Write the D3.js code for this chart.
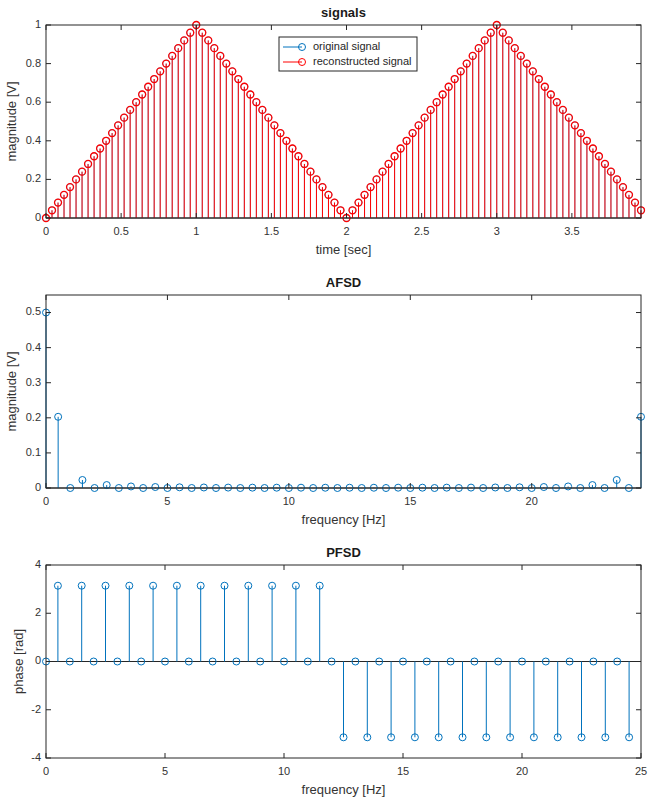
<!DOCTYPE html>
<html>
<head>
<meta charset="utf-8">
<script src="https://cdn.jsdelivr.net/npm/d3@7"></script>
<style>
  body { margin: 0; background: #fff; }
  svg { font-family: "Liberation Sans", Arial, sans-serif; }
  .tick-label { font-size: 11px; fill: #333; }
  .legend-label { font-size: 11px; fill: #262626; }
  .axis-label { font-size: 13px; fill: #333; }
  .title { font-size: 13px; font-weight: bold; fill: #1a1a1a; }
</style>
</head>
<body>
<svg id="chart"></svg>
<script>
const width = 649;
const height = 801;

// signals: time axis (sec) and sample values
const timeSec = [
  0, 0.04, 0.08, 0.12, 0.16, 0.2, 0.24, 0.28, 0.32, 0.36,
  0.4, 0.44, 0.48, 0.52, 0.56, 0.6, 0.64, 0.68, 0.72, 0.76,
  0.8, 0.84, 0.88, 0.92, 0.96, 1, 1.04, 1.08, 1.12, 1.16,
  1.2, 1.24, 1.28, 1.32, 1.36, 1.4, 1.44, 1.48, 1.52, 1.56,
  1.6, 1.64, 1.68, 1.72, 1.76, 1.8, 1.84, 1.88, 1.92, 1.96,
  2, 2.04, 2.08, 2.12, 2.16, 2.2, 2.24, 2.28, 2.32, 2.36,
  2.4, 2.44, 2.48, 2.52, 2.56, 2.6, 2.64, 2.68, 2.72, 2.76,
  2.8, 2.84, 2.88, 2.92, 2.96, 3, 3.04, 3.08, 3.12, 3.16,
  3.2, 3.24, 3.28, 3.32, 3.36, 3.4, 3.44, 3.48, 3.52, 3.56,
  3.6, 3.64, 3.68, 3.72, 3.76, 3.8, 3.84, 3.88, 3.92, 3.96
];
const originalSignal = [
  0, 0.04, 0.08, 0.12, 0.16, 0.2, 0.24, 0.28, 0.32, 0.36,
  0.4, 0.44, 0.48, 0.52, 0.56, 0.6, 0.64, 0.68, 0.72, 0.76,
  0.8, 0.84, 0.88, 0.92, 0.96, 1, 0.96, 0.92, 0.88, 0.84,
  0.8, 0.76, 0.72, 0.68, 0.64, 0.6, 0.56, 0.52, 0.48, 0.44,
  0.4, 0.36, 0.32, 0.28, 0.24, 0.2, 0.16, 0.12, 0.08, 0.04,
  0, 0.04, 0.08, 0.12, 0.16, 0.2, 0.24, 0.28, 0.32, 0.36,
  0.4, 0.44, 0.48, 0.52, 0.56, 0.6, 0.64, 0.68, 0.72, 0.76,
  0.8, 0.84, 0.88, 0.92, 0.96, 1, 0.96, 0.92, 0.88, 0.84,
  0.8, 0.76, 0.72, 0.68, 0.64, 0.6, 0.56, 0.52, 0.48, 0.44,
  0.4, 0.36, 0.32, 0.28, 0.24, 0.2, 0.16, 0.12, 0.08, 0.04
];
// the reconstruction lands on the same values
const reconstructedSignal = originalSignal.slice();

// spectrum: frequency bins (Hz), magnitude [V], phase [rad]
const freqHz = [
  0, 0.5, 1, 1.5, 2, 2.5, 3, 3.5, 4, 4.5,
  5, 5.5, 6, 6.5, 7, 7.5, 8, 8.5, 9, 9.5,
  10, 10.5, 11, 11.5, 12, 12.5, 13, 13.5, 14, 14.5,
  15, 15.5, 16, 16.5, 17, 17.5, 18, 18.5, 19, 19.5,
  20, 20.5, 21, 21.5, 22, 22.5, 23, 23.5, 24, 24.5
];
const magnitude = [
  0.5, 0.2029, 0, 0.0228, 0, 0.0084, 0, 0.0044, 0, 0.0028,
  0, 0.002, 0, 0.0015, 0, 0.0012, 0, 0.001, 0, 0.0009,
  0, 0.0009, 0, 0.0008, 0, 0.0008, 0, 0.0008, 0, 0.0009,
  0, 0.0009, 0, 0.001, 0, 0.0012, 0, 0.0015, 0, 0.002,
  0, 0.0028, 0, 0.0044, 0, 0.0084, 0, 0.0228, 0, 0.2029
];
const phase = [
  0, 3.1416, 0, 3.1416, 0, 3.1416, 0, 3.1416, 0, 3.1416,
  0, 3.1416, 0, 3.1416, 0, 3.1416, 0, 3.1416, 0, 3.1416,
  0, 3.1416, 0, 3.1416, 0, -3.1416, 0, -3.1416, 0, -3.1416,
  0, -3.1416, 0, -3.1416, 0, -3.1416, 0, -3.1416, 0, -3.1416,
  0, -3.1416, 0, -3.1416, 0, -3.1416, 0, -3.1416, 0, -3.1416
];

const timeTicks = [0, 0.5, 1, 1.5, 2, 2.5, 3, 3.5];
const signalTicks = [0, 0.2, 0.4, 0.6, 0.8, 1];
const afsdFreqTicks = [0, 5, 10, 15, 20];
const afsdTicks = [0, 0.1, 0.2, 0.3, 0.4, 0.5];
const pfsdFreqTicks = [0, 5, 10, 15, 20, 25];
const pfsdTicks = [-4, -2, 0, 2, 4];

const blue = "#0072BD";
const red = "#FF0000";
const axisColor = "#262626";
const left = 46, right = 641;
const tickLen = 5;
const markerR = 3.5;

const svg = d3.select("#chart")
    .attr("width", width)
    .attr("height", height);

function drawPanel(p) {
    const x = d3.scaleLinear().domain(p.xDomain).range([left, right]);
    const y = d3.scaleLinear().domain(p.yDomain).range([p.bottom, p.top]);
    const g = svg.append("g");

    // stem baseline at zero
    g.append("line")
        .attr("x1", left).attr("x2", right)
        .attr("y1", y(0)).attr("y2", y(0))
        .attr("stroke", axisColor).attr("stroke-width", 1);

    p.series.forEach(s => {
        const pts = s.x.map((v, i) => ({ x: v, y: s.y[i] }));
        g.selectAll(null).data(pts).enter().append("line")
            .attr("x1", d => x(d.x)).attr("x2", d => x(d.x))
            .attr("y1", y(0)).attr("y2", d => y(d.y))
            .attr("stroke", s.color).attr("stroke-width", s.stemWidth || 1);
        g.selectAll(null).data(pts).enter().append("circle")
            .attr("cx", d => x(d.x)).attr("cy", d => y(d.y))
            .attr("r", markerR)
            .attr("fill", "none")
            .attr("stroke", s.color).attr("stroke-width", s.markerWidth || 1);
    });

    // box
    g.append("rect")
        .attr("x", left).attr("y", p.top)
        .attr("width", right - left).attr("height", p.bottom - p.top)
        .attr("fill", "none").attr("stroke", axisColor).attr("stroke-width", 1);

    // inward ticks, bottom/top and left/right
    p.xTicks.forEach(t => {
        [[p.bottom, -tickLen], [p.top, tickLen]].forEach(([yy, d]) => {
            g.append("line")
                .attr("x1", x(t)).attr("x2", x(t))
                .attr("y1", yy).attr("y2", yy + d)
                .attr("stroke", axisColor);
        });
        g.append("text").attr("class", "tick-label")
            .attr("x", x(t)).attr("y", p.bottom + 14)
            .attr("text-anchor", "middle").attr("dominant-baseline", "middle")
            .text(t);
    });
    p.yTicks.forEach(t => {
        [[left, tickLen], [right, -tickLen]].forEach(([xx, d]) => {
            g.append("line")
                .attr("x1", xx).attr("x2", xx + d)
                .attr("y1", y(t)).attr("y2", y(t))
                .attr("stroke", axisColor);
        });
        g.append("text").attr("class", "tick-label")
            .attr("x", left - 5).attr("y", y(t))
            .attr("text-anchor", "end").attr("dominant-baseline", "middle")
            .text(t);
    });

    g.append("text").attr("class", "title")
        .attr("x", (left + right) / 2).attr("y", p.top - 11)
        .attr("text-anchor", "middle").attr("dominant-baseline", "middle")
        .text(p.title);
    g.append("text").attr("class", "axis-label")
        .attr("x", (left + right) / 2).attr("y", p.bottom + 33)
        .attr("text-anchor", "middle").attr("dominant-baseline", "middle")
        .text(p.xLabel);
    g.append("text").attr("class", "axis-label")
        .attr("transform", `translate(${p.yLabelX},${(p.top + p.bottom) / 2}) rotate(-90)`)
        .attr("text-anchor", "middle").attr("dominant-baseline", "middle")
        .text(p.yLabel);
}

drawPanel({
    top: 25, bottom: 218,
    xDomain: [0, 3.96], yDomain: [0, 1],
    xTicks: timeTicks, yTicks: signalTicks,
    title: "signals", xLabel: "time [sec]", yLabel: "magnitude [V]", yLabelX: 12.5,
    series: [
        { x: timeSec, y: originalSignal, color: blue, stemWidth: 0.6, markerWidth: 0.6 },
        { x: timeSec, y: reconstructedSignal, color: red, stemWidth: 1, markerWidth: 1.3 }
    ]
});

drawPanel({
    top: 295, bottom: 488,
    xDomain: [0, 24.5], yDomain: [0, 0.55],
    xTicks: afsdFreqTicks, yTicks: afsdTicks,
    title: "AFSD", xLabel: "frequency [Hz]", yLabel: "magnitude [V]", yLabelX: 12.5,
    series: [{ x: freqHz, y: magnitude, color: blue }]
});

drawPanel({
    top: 565, bottom: 758,
    xDomain: [0, 25], yDomain: [-4, 4],
    xTicks: pfsdFreqTicks, yTicks: pfsdTicks,
    title: "PFSD", xLabel: "frequency [Hz]", yLabel: "phase [rad]", yLabelX: 20,
    series: [{ x: freqHz, y: phase, color: blue }]
});

// legend for the signals panel
const legend = svg.append("g");
legend.append("rect")
    .attr("x", 279).attr("y", 37).attr("width", 138).attr("height", 34)
    .attr("fill", "#fff").attr("stroke", axisColor).attr("stroke-width", 1);
[["original signal", blue], ["reconstructed signal", red]].forEach(([label, color], i) => {
    const ly = 47 + i * 15;
    legend.append("line")
        .attr("x1", 283).attr("x2", 302).attr("y1", ly).attr("y2", ly)
        .attr("stroke", color);
    legend.append("circle")
        .attr("cx", 302).attr("cy", ly).attr("r", markerR)
        .attr("fill", "none").attr("stroke", color);
    legend.append("text").attr("class", "legend-label")
        .attr("x", 313).attr("y", ly)
        .attr("dominant-baseline", "middle")
        .text(label);
});
</script>
</body>
</html>
